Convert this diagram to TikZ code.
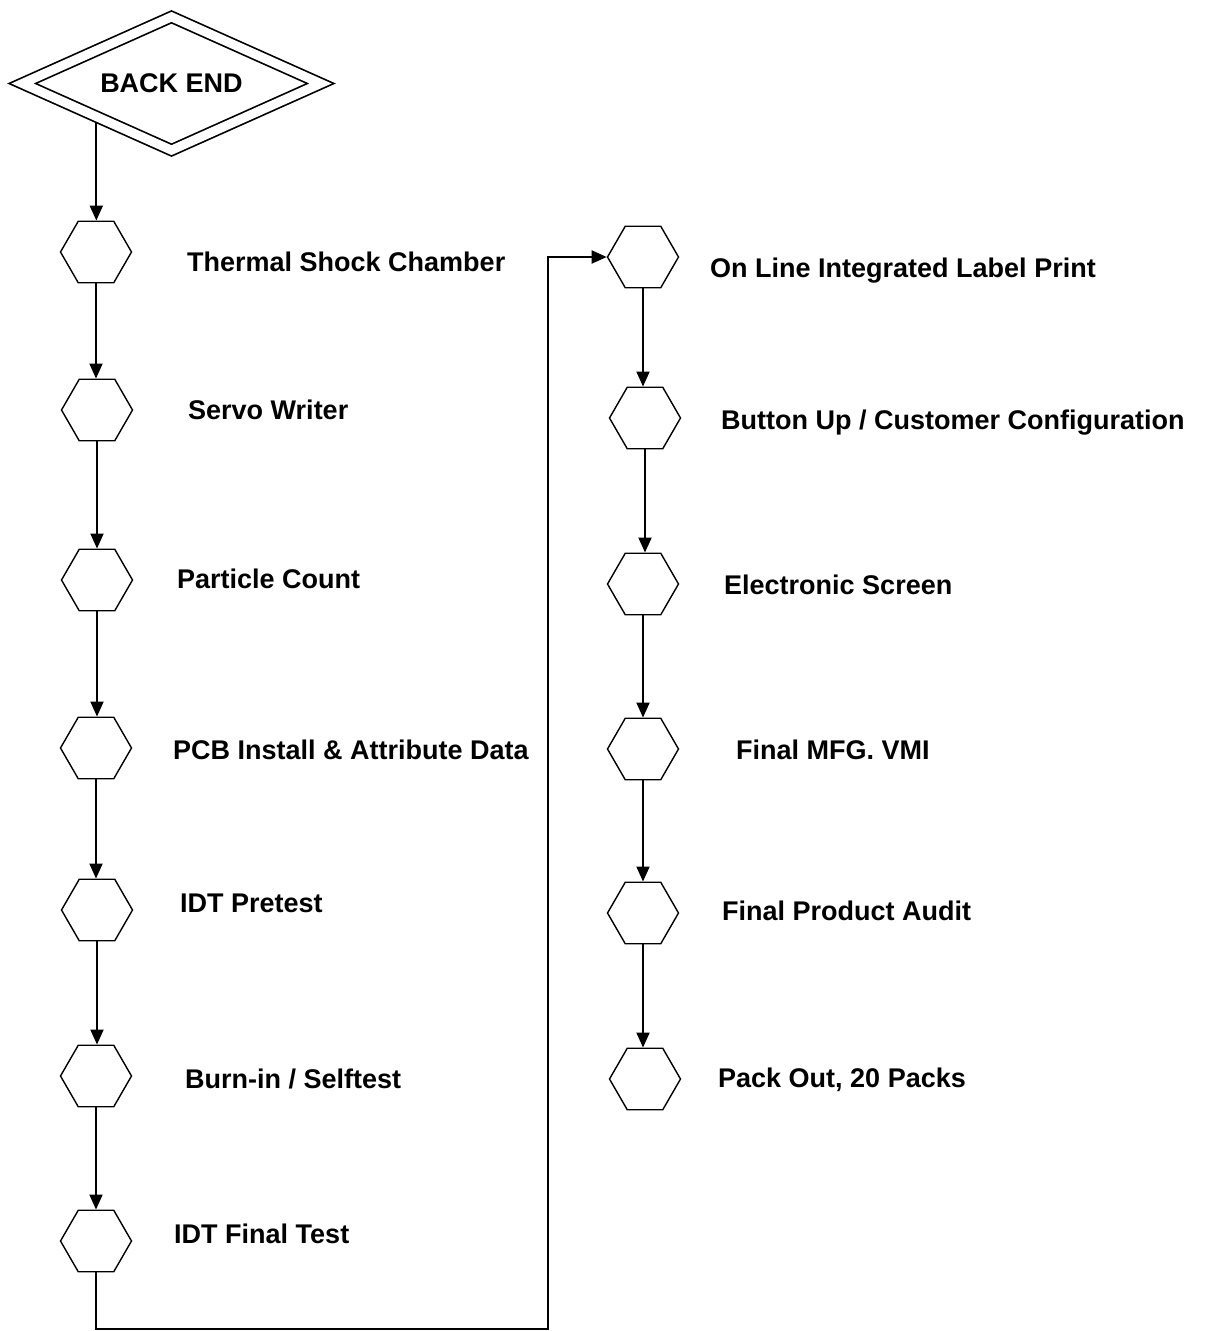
\documentclass[tikz,border=0pt]{standalone}
\usepackage{fontspec}
\setmainfont{Liberation Sans}
\usetikzlibrary{positioning,arrows.meta,shapes.geometric}

\tikzset{
  hexa/.style={regular polygon, regular polygon sides=6, draw, line width=1.4pt,
               minimum size=71pt, inner sep=0pt},
  flow/.style={line width=1.9pt, -{Triangle[length=15pt,width=13pt]}},
  lbl/.style={anchor=base west, inner sep=0pt, font=\bfseries\fontsize{27}{32}\selectfont},
}

\begin{document}
\begin{tikzpicture}[x=1pt,y=-1pt]
\useasboundingbox (0,0) rectangle (1208,1331);

% Start marker
\node[diamond, draw, double, line width=1.7pt, double distance=9pt, aspect=2.2,
      minimum width=299pt, minimum height=134pt, inner sep=0pt,
      font=\bfseries\fontsize{27}{32}\selectfont] (back) at (171.5,83.5) {BACK END};

% Left column steps
\node[hexa] (t1) at (96,252) {};
\node[hexa] (t2) at (97,410) {};
\node[hexa] (t3) at (97,580) {};
\node[hexa] (t4) at (96,748) {};
\node[hexa] (t5) at (97,910) {};
\node[hexa] (t6) at (96,1076) {};
\node[hexa] (t7) at (96,1241) {};

% Right column steps
\node[hexa] (r1) at (643,257) {};
\node[hexa] (r2) at (645,418) {};
\node[hexa] (r3) at (643,584) {};
\node[hexa] (r4) at (643,749) {};
\node[hexa] (r5) at (643,913) {};
\node[hexa] (r6) at (645,1079) {};

% Labels
\node[lbl] (l1) at (187,271.5) {Thermal Shock Chamber};
\node[lbl] (l2) at (188,419.5) {Servo Writer};
\node[lbl] (l3) at (177,588.5) {Particle Count};
\node[lbl] (l4) at (173,759.5) {PCB Install \& Attribute Data};
\node[lbl] (l5) at (180,912.5) {IDT Pretest};
\node[lbl] (l6) at (185,1088.5) {Burn-in / Selftest};
\node[lbl] (l7) at (174,1243.5) {IDT Final Test};
\node[lbl] (m1) at (710,277.5) {On Line Integrated Label Print};
\node[lbl] (m2) at (721,429.5) {Button Up / Customer Configuration};
\node[lbl] (m3) at (724,594.5) {Electronic Screen};
\node[lbl] (m4) at (736,759.5) {Final MFG. VMI};
\node[lbl] (m5) at (722,920.5) {Final Product Audit};
\node[lbl] (m6) at (718,1087.5) {Pack Out, 20 Packs};

% Flow arrows
\draw[flow, shorten <=5pt] (back.south west) -- (back.south west |- t1.north);
\foreach \a/\b in {t1/t2,t2/t3,t3/t4,t4/t5,t5/t6,t6/t7,r1/r2,r2/r3,r3/r4,r4/r5,r5/r6}
    \draw[flow] (\a.south) -- (\a.south |- \b.north);

% Jump to second column
\coordinate (turn) at (548,1329);
\draw[flow] (t7.south) |- (turn) |- (r1.west);

\end{tikzpicture}
\end{document}
